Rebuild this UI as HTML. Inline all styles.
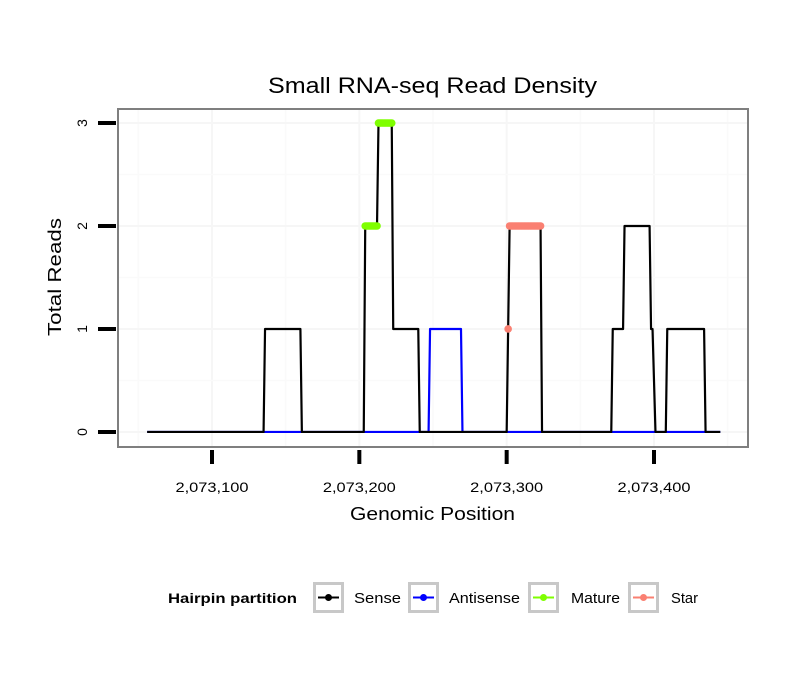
<!DOCTYPE html>
<html><head><meta charset="utf-8"><style>
html,body{margin:0;padding:0;background:#fff;}
svg{display:block;font-family:"Liberation Sans",sans-serif;}
</style></head><body>
<svg id="chart" width="810" height="690">
<rect width="810" height="690" fill="#fff"/>
<text x="268" y="93" font-size="22" textLength="329" lengthAdjust="spacingAndGlyphs">Small RNA-seq Read Density</text>
<g id="grid"></g>
<g id="series"></g>
<rect x="118" y="109" width="630" height="338" fill="none" stroke="#7f7f7f" stroke-width="2"/>
<g id="axes"></g>
<text x="350" y="520" font-size="18" textLength="165" lengthAdjust="spacingAndGlyphs">Genomic Position</text>
<text transform="translate(61,336) rotate(-90)" font-size="18" textLength="118" lengthAdjust="spacingAndGlyphs">Total Reads</text>
<g>
<text x="168" y="603" font-size="14" font-weight="bold" textLength="129" lengthAdjust="spacingAndGlyphs">Hairpin partition</text>
<g>
<rect x="314.5" y="583.5" width="28" height="28" fill="#fff" stroke="#c8c8c8" stroke-width="3"/>
<line x1="318" y1="597.5" x2="339" y2="597.5" stroke="#000" stroke-width="2"/><circle cx="328.5" cy="597.5" r="3.5" fill="#000"/>
<text x="354" y="603" font-size="15" textLength="47" lengthAdjust="spacingAndGlyphs">Sense</text></g>
<g>
<rect x="409.5" y="583.5" width="28" height="28" fill="#fff" stroke="#c8c8c8" stroke-width="3"/>
<line x1="413" y1="597.5" x2="434" y2="597.5" stroke="#0000ff" stroke-width="2"/><circle cx="423.5" cy="597.5" r="3.5" fill="#0000ff"/>
<text x="449" y="603" font-size="15" textLength="71" lengthAdjust="spacingAndGlyphs">Antisense</text></g>
<g>
<rect x="529.5" y="583.5" width="28" height="28" fill="#fff" stroke="#c8c8c8" stroke-width="3"/>
<line x1="533" y1="597.5" x2="554" y2="597.5" stroke="#7fff00" stroke-width="2"/><circle cx="543.5" cy="597.5" r="3.5" fill="#7fff00"/>
<text x="571" y="603" font-size="15" textLength="49" lengthAdjust="spacingAndGlyphs">Mature</text></g>
<g>
<rect x="629.5" y="583.5" width="28" height="28" fill="#fff" stroke="#c8c8c8" stroke-width="3"/>
<line x1="633" y1="597.5" x2="654" y2="597.5" stroke="#fa8072" stroke-width="2"/><circle cx="643.5" cy="597.5" r="3.5" fill="#fa8072"/>
<text x="671" y="603" font-size="15" textLength="27" lengthAdjust="spacingAndGlyphs">Star</text></g>
</g>
</svg>
<script>
const sensePos=[2073056,2073135,2073136,2073160,2073161,2073203,2073204,2073212,2073213,2073222,2073223,2073240,2073241,2073300,2073301,2073302,2073323,2073324,2073371,2073372,2073379,2073380,2073397,2073398,2073399,2073401,2073408,2073409,2073434,2073435,2073445];
const senseVal=[0,0,1,1,0,0,2,2,3,3,1,1,0,0,1,2,2,0,0,1,1,2,2,1,1,0,0,1,1,0,0];
const antiPos=[2073056,2073247,2073248,2073269,2073270,2073445];
const antiVal=[0,0,1,1,0,0];
const maturePos=[2073204,2073205,2073206,2073207,2073208,2073209,2073210,2073211,2073212,2073213,2073214,2073215,2073216,2073217,2073218,2073219,2073220,2073221,2073222];
const matureVal=[2,2,2,2,2,2,2,2,2,3,3,3,3,3,3,3,3,3,3];
const starPos=[2073301,2073302,2073303,2073304,2073305,2073306,2073307,2073308,2073309,2073310,2073311,2073312,2073313,2073314,2073315,2073316,2073317,2073318,2073319,2073320,2073321,2073322,2073323];
const starVal=[1,2,2,2,2,2,2,2,2,2,2,2,2,2,2,2,2,2,2,2,2,2,2];
const xTicks=[2073100,2073200,2073300,2073400];
const xTickLabels=["2,073,100","2,073,200","2,073,300","2,073,400"];
const yTicks=[0,1,2,3];
const yTickLabels=["0","1","2","3"];

const NS="http://www.w3.org/2000/svg";
const X0=118,X1=748,Y0=447,Y1=109;
const xMin=2073036.2,xMax=2073463.8,yMin=-0.146,yMax=3.136;
function xs(v){return X0+(v-xMin)/(xMax-xMin)*(X1-X0);}
function ys(v){return Y0-(v-yMin)/(yMax-yMin)*(Y0-Y1);}
function mk(tag,attrs,parent){const e=document.createElementNS(NS,tag);for(const k in attrs)e.setAttribute(k,attrs[k]);parent.appendChild(e);return e;}
const grid=document.getElementById('grid'),series=document.getElementById('series'),axes=document.getElementById('axes');
for(let i=0;i<xTicks.length;i++){
  const g=mk('line',{x1:xs(xTicks[i]),x2:xs(xTicks[i]),y1:Y1,y2:Y0,stroke:'#f6f6f6','stroke-width':2},grid);
  
  
}
for(let i=0;i<=xTicks.length;i++){
  const step=xTicks[1]-xTicks[0];
  const v=xTicks[0]-step/2+i*step;
  if(xs(v)<X0||xs(v)>X1)continue;
  const g=mk('line',{x1:xs(v),x2:xs(v),y1:Y1,y2:Y0,stroke:'#fafafa','stroke-width':1.5},grid);
  
  
}
for(let i=0;i<yTicks.length;i++){
  const g=mk('line',{x1:X0,x2:X1,y1:ys(yTicks[i]),y2:ys(yTicks[i]),stroke:'#f6f6f6','stroke-width':2},grid);
  
  
  if(i<yTicks.length-1){
    const m=mk('line',{x1:X0,x2:X1,y1:ys((yTicks[i]+yTicks[i+1])/2),y2:ys((yTicks[i]+yTicks[i+1])/2),stroke:'#fafafa','stroke-width':1.5},grid);
    
    
  }
}
function line(pos,val,color,name){
  const d=pos.map((p,i)=>(i?'L':'M')+xs(p).toFixed(2)+','+ys(val[i]).toFixed(2)).join('');
  const e=mk('path',{d:d,fill:'none',stroke:color,'stroke-width':2.2,'stroke-linejoin':'round'},series);
  
  
}
function dots(pos,val,color,name){
  for(let i=0;i<pos.length;i++){
    const c=mk('circle',{cx:xs(pos[i]),cy:ys(val[i]),r:3.8,fill:color},series);
    
    
  }
}
line(antiPos,antiVal,'#0000ff','antisense-line');
line(sensePos,senseVal,'#000000','sense-line');
dots(maturePos,matureVal,'#7fff00','mature-point');
dots(starPos,starVal,'#fa8072','star-point');
for(let i=0;i<xTicks.length;i++){
  const t=mk('line',{x1:xs(xTicks[i]),x2:xs(xTicks[i]),y1:450,y2:464,stroke:'#000','stroke-width':4},axes);
  
  
  const l=mk('text',{x:xs(xTicks[i])-36.5,y:492,'font-size':14,textLength:73,lengthAdjust:'spacingAndGlyphs'},axes);
  l.textContent=xTickLabels[i];
  
  
}
for(let i=0;i<yTicks.length;i++){
  const y=ys(yTicks[i]);
  const t=mk('line',{x1:98,x2:116,y1:y,y2:y,stroke:'#000','stroke-width':4},axes);
  
  
  const l=mk('text',{transform:'translate(87,'+y+') rotate(-90)','font-size':14,'text-anchor':'middle'},axes);
  l.textContent=yTickLabels[i];
  
  
}
</script>
</body></html>
